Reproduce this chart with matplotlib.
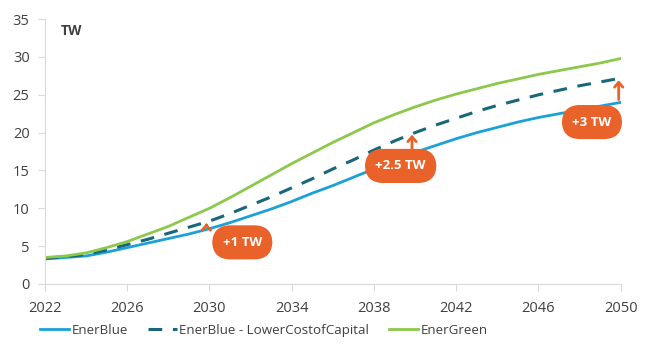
import numpy as np
import matplotlib.pyplot as plt

years = list(range(2022, 2051))
ener_blue = [3.3, 3.5, 3.7, 4.2, 4.8, 5.4, 6.0, 6.6, 7.3, 8.1, 9.0, 9.9, 10.9, 12.0, 13.0,
             14.1, 15.2, 16.3, 17.4, 18.3, 19.2, 20.0, 20.7, 21.4, 22.0, 22.5, 23.0, 23.5, 24.0]
ener_blue_lcc = [3.4, 3.6, 3.9, 4.5, 5.2, 5.9, 6.7, 7.5, 8.3, 9.3, 10.4, 11.5, 12.7, 13.9, 15.2,
                 16.4, 17.7, 18.9, 20.0, 21.0, 21.9, 22.8, 23.6, 24.3, 25.0, 25.6, 26.2, 26.7, 27.2]
ener_green = [3.5, 3.7, 4.1, 4.8, 5.6, 6.6, 7.6, 8.8, 10.0, 11.4, 12.9, 14.4, 15.9, 17.3, 18.7,
              20.0, 21.3, 22.4, 23.4, 24.3, 25.1, 25.8, 26.5, 27.1, 27.7, 28.2, 28.7, 29.2, 29.8]

# gap arrows and their labels
gap_years = [2030, 2040, 2050]
gap_labels = ['+1 TW', '+2.5 TW', '+3 TW']
label_pos = [(2031.6, 5.5), (2039.3, 15.6), (2048.6, 21.4)]

BLUE = '#1ba1d6'
TEAL = '#17687a'
GREEN = '#8cc84b'
ORANGE = '#e8622a'
GREY_TXT = '#404040'

plt.rcParams['font.family'] = ['Open Sans', 'DejaVu Sans']

fig = plt.figure(figsize=(6.5, 3.48), dpi=100)
ax = fig.add_axes([0.069, 0.184, 0.886, 0.761])

ax.plot(years, ener_blue, color=BLUE, lw=2, label='EnerBlue')
ax.plot(years, ener_blue_lcc, color=TEAL, lw=2.2, dashes=(4.5, 3.5),
        label='EnerBlue - LowerCostofCapital')
ax.plot(years, ener_green, color=GREEN, lw=2, label='EnerGreen')

for yr, lab, (lx, ly) in zip(gap_years, gap_labels, label_pos):
    i = years.index(yr)
    x0 = yr - 0.15 if yr < 2050 else yr - 0.1
    ax.annotate('', xy=(x0, ener_blue_lcc[i] + 0.1), xytext=(x0, ener_blue[i]),
                arrowprops=dict(arrowstyle='->,head_width=0.3,head_length=0.35',
                                color=ORANGE, lw=2), zorder=4)
    ax.text(lx, ly, lab, ha='center', va='center', color='white',
            fontsize=9.5, fontweight='bold', zorder=5,
            bbox=dict(boxstyle='round,pad=0.8,rounding_size=1.4',
                      fc=ORANGE, ec='none'))

ax.text(2022.75, 33.4, 'TW', fontsize=10, fontweight='bold', color=GREY_TXT, va='center')

ax.set_xlim(2022, 2050)
ax.set_ylim(0, 35)
ax.set_xticks(range(2022, 2051, 4))
ax.set_yticks(range(0, 36, 5))

for s in ['top', 'right']:
    ax.spines[s].set_visible(False)
for s in ['left', 'bottom']:
    ax.spines[s].set_color('#d9d9d9')
ax.tick_params(axis='both', colors='#d9d9d9', labelcolor=GREY_TXT, labelsize=10.5, length=5)
ax.tick_params(axis='y', pad=6)
ax.tick_params(axis='x', pad=7)

ax.legend(loc='upper center', bbox_to_anchor=(0.38, -0.105), ncol=3, frameon=False,
          fontsize=9.6, handlelength=2.2, handletextpad=0.15, columnspacing=1.5,
          labelcolor=GREY_TXT)

fig.savefig('out.png', dpi=100)
